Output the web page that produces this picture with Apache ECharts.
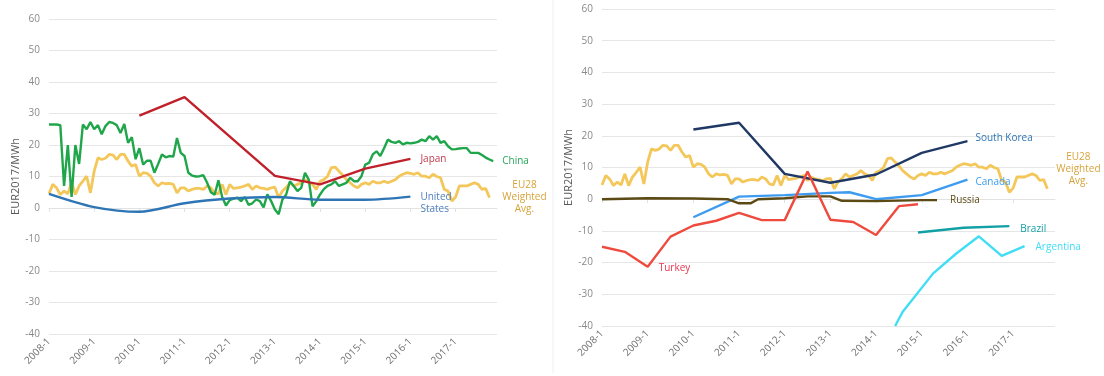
<!DOCTYPE html>
<html>
<head>
<meta charset="utf-8">
<script src="https://cdn.jsdelivr.net/npm/echarts@6/dist/echarts.min.js"></script>
<style>
  html, body { margin: 0; padding: 0; background: #ffffff; }
  #chart { width: 1104px; height: 376px; }
</style>
</head>
<body>
<div id="chart"></div>
<script>
// ---------- categories ----------
const years = [2008, 2009, 2010, 2011, 2012, 2013, 2014, 2015, 2016, 2017];
const months = [];
years.forEach(y => { for (let m = 1; m <= 12; m++) months.push(y + '-' + m); });

// ---------- y axis ----------
const yMin = -40, yMax = 60, yStep = 10;
const yName = 'EUR2017/MWh';

// ---------- monthly series (start 2008-1) ----------
const chinaValues = [26.5,26.5,26.5,26.3,7,20,3.5,20,14,26.5,
  25,27.3,25,26.3,23.4,26,27.3,27,26.3,23.8,
  26.7,20.7,22.5,15.5,19,13.8,15,15,11.2,14,
  17,16.1,16.5,16.3,22.2,17.5,16.5,11.2,10.3,10,
  10.1,10.4,8,5,4.2,8.8,3.5,0.8,2.5,3,
  3.3,2.2,3.5,1,1.5,2.7,2.2,0.2,4.3,2.2,
  -0.5,-2,2.7,4.3,8.5,7,5.4,6.4,11.2,9,
  0.5,2.2,4.3,6,7,7.5,8.5,7,7.5,8,
  9.6,8.5,8.5,10.1,13.8,14.3,17,18,16.5,19,
  21.7,21,20.7,21.2,20.2,20.7,20.5,20.7,21,21.7,
  21.2,22.8,21.7,22.8,20.7,21.2,19.6,18.6,18.7,18.9,
  19,19,17.5,17.5,17.5,16.8,16,15.4,14.9];

const eu28Values = [4.5,7.5,6.4,4.3,5.4,4.5,8,4.3,7,8.5,
  10.1,4.8,11.7,15.9,15.4,15.8,17,16.8,15.4,17,
  17,14.9,13.3,13.8,10.1,11.2,11,10.1,8,7,
  8,7.7,7.8,7.5,4.8,6.4,6.4,5.4,5.9,6.2,
  6.2,5.9,7,6.4,4.8,4.5,7.5,4.3,7.5,6.2,
  6.4,6.6,7,7.5,5.9,7,6.4,6.2,5.9,6.4,
  6.6,3.3,5.4,6.5,8,7,7.5,8,9,8,
  7.5,5.9,8.5,9,10.1,12.8,13,11.7,10.5,9,
  8,7,6.4,7.5,8,7.5,8.5,8,8,8.5,
  8,8.5,9,10.1,10.7,11.2,11,10.7,11.2,10.1,
  10.1,9.6,10.7,10,9.6,5.9,5.4,2.2,3.5,7,
  7,7,7.5,8,7.5,5.9,6.2,3.3];

// ---------- sparse series (left chart) ----------
const japanMonths = ['2010-1','2011-1','2013-1','2014-1','2015-1','2016-1'];
const japanValues = [29.3, 35.2, 10.2, 7.5, 12.5, 15.6];

const usMonths = ['2008-1','2009-1','2010-1','2011-1','2012-1','2013-1','2014-1','2015-1','2016-1'];
const usValues = [4.5, 0.3, -1.2, 1.5, 3.0, 3.5, 2.6, 2.6, 3.6];

// ---------- sparse series (right chart) ----------
const koreaMonths = ['2010-1','2011-1','2012-1','2013-1','2014-1','2015-1','2016-1'];
const koreaValues = [22, 24.1, 8, 5.2, 7.8, 14.6, 18.3];

const canadaMonths = ['2010-1','2011-1','2012-1','2013-1','2013-6','2014-1','2015-1','2016-1'];
const canadaValues = [-5.7, 0.8, 1.3, 2.0, 2.2, 0, 1.3, 6.2];

const russiaMonths = ['2008-1','2009-1','2010-1','2010-10','2011-1','2011-4','2011-6','2012-1','2012-7','2013-1','2013-4','2014-1','2015-1','2015-5'];
const russiaValues = [0, 0.3, 0.2, 0, -1.3, -1.3, 0, 0.3, 0.9, 0.9, -0.5, -0.6, -0.3, -0.3];

const turkeyMonths = ['2008-1','2008-7','2009-1','2009-7','2010-1','2010-7','2011-1','2011-7','2012-1','2012-7','2013-1','2013-7','2014-1','2014-7','2014-12'];
const turkeyValues = [-15, -16.6, -21.3, -11.8, -8.3, -6.8, -4.3, -6.6, -6.6, 8.7, -6.5, -7.2, -11.3, -2.2, -1.6];

const brazilMonths = ['2014-12','2015-12','2016-12'];
const brazilValues = [-10.5, -9, -8.5];

const argentinaMonths = ['2014-6','2014-8','2015-4','2015-10','2016-4','2016-10','2017-4'];
const argentinaValues = [-40, -35.5, -23.4, -17.2, -11.7, -17.9, -14.8];

// ---------- helpers ----------
const pairs = (ms, vs) => ms.map((m, i) => [m, vs[i]]);
const FONT = 'Open Sans';

function xAxisCfg(gi) {
  return {
    type: 'category', gridIndex: gi, data: months, boundaryGap: false,
    axisLine: { show: false, onZero: false }, axisTick: { show: false },
    axisLabel: { interval: 11, rotate: 45, color: '#707070', fontSize: 10, fontFamily: FONT, margin: 6 },
    splitLine: { show: false }
  };
}
function zeroAxisCfg(gi) {
  return {
    type: 'category', gridIndex: gi, data: months, boundaryGap: false, position: 'bottom',
    axisLine: { show: true, onZero: true, lineStyle: { color: '#e2e2e2', width: 1 } },
    axisTick: { show: true, interval: 11, length: 4, lineStyle: { color: '#e2e2e2' } },
    axisLabel: { show: false }, splitLine: { show: false }
  };
}
function yAxisCfg(gi) {
  return {
    type: 'value', gridIndex: gi, min: yMin, max: yMax, interval: yStep,
    name: yName, nameLocation: 'middle', nameRotate: 90, nameGap: 27,
    nameTextStyle: { color: '#595959', fontSize: 11, fontFamily: FONT },
    axisLine: { show: false }, axisTick: { show: false },
    axisLabel: { color: '#8a8a8a', fontSize: 10, fontFamily: FONT, margin: 9 },
    splitLine: { lineStyle: { color: '#e6e6e6', width: 1 } }
  };
}
function line(gi, name, data, color, width, endLabel, extra) {
  return Object.assign({
    type: 'line', name: name, xAxisIndex: gi, yAxisIndex: gi, data: data,
    showSymbol: false, symbol: 'none', clip: true,
    lineStyle: { color: color, width: width }, itemStyle: { color: color },
    endLabel: endLabel ? Object.assign({ show: true, fontSize: 10, fontFamily: FONT, lineHeight: 12 }, endLabel) : { show: false },
    z: 3
  }, extra || {});
}

const cYellow = '#F4C75A', cYellowTxt = '#D6A33A';
const eu28Label = { formatter: 'EU28\nWeighted\nAvg.', color: cYellowTxt, align: 'center' };

const series = [
  // left chart
  line(0, 'EU28 Weighted Avg.', eu28Values, cYellow, 2.8, Object.assign({ offset: [27, 0] }, eu28Label), { z: 2 }),
  line(0, 'China', chinaValues, '#1FA64A', 2.4, { formatter: 'China', color: '#2AA55A', offset: [1, 0] }),
  line(0, 'Japan', pairs(japanMonths, japanValues), '#C0202A', 2.4, { formatter: 'Japan', color: '#C0394B', offset: [2, 0] }),
  line(0, 'United States', pairs(usMonths, usValues), '#2E75B6', 2.4, { formatter: 'United\nStates', color: '#4F81BD', offset: [2, 6] }, { smooth: 0.3 }),
  // right chart
  line(1, 'EU28 Weighted Avg.', eu28Values, cYellow, 2.8, Object.assign({ offset: [23, -20] }, eu28Label), { z: 2 }),
  line(1, 'South Korea', pairs(koreaMonths, koreaValues), '#1F3864', 2.4, { formatter: 'South Korea', color: '#2E75B6', offset: [0, -3] }),
  line(1, 'Canada', pairs(canadaMonths, canadaValues), '#3D9BF0', 2.4, { formatter: 'Canada', color: '#3D9BF0', offset: [0, 3] }),
  line(1, 'Russia', pairs(russiaMonths, russiaValues), '#5C4A14', 2.4, { formatter: 'Russia', color: '#5C4A14', offset: [5, 0] }),
  line(1, 'Turkey', pairs(turkeyMonths, turkeyValues), '#EE4B3E', 2.4, null, {
    markPoint: {
      symbol: 'circle', symbolSize: 0, silent: true,
      data: [{ coord: [turkeyMonths[2], turkeyValues[2]] }],
      label: { show: true, formatter: 'Turkey', position: 'right', distance: 5, offset: [6, 1], color: '#E8344B', fontSize: 10, fontFamily: FONT }
    }
  }),
  line(1, 'Brazil', pairs(brazilMonths, brazilValues), '#12A0A5', 2.4, { formatter: 'Brazil', color: '#12A0A5', offset: [3, 3] }),
  line(1, 'Argentina', pairs(argentinaMonths, argentinaValues), '#40DDF5', 2.4, { formatter: 'Argentina', color: '#40DDF5', offset: [3, 1] })
];

const chart = echarts.init(document.getElementById('chart'), null, { renderer: 'canvas' });
chart.setOption({
  animation: false,
  backgroundColor: '#ffffff',
  grid: [
    { left: 49, top: 19, width: 448, height: 315, containLabel: false },
    { left: 602, top: 9, width: 453, height: 317, containLabel: false }
  ],
  xAxis: [xAxisCfg(0), xAxisCfg(1), zeroAxisCfg(0), zeroAxisCfg(1)],
  yAxis: [yAxisCfg(0), yAxisCfg(1)],
  graphic: [
    { type: 'line', shape: { x1: 553, y1: 0, x2: 553, y2: 373 }, style: { stroke: '#f0f0f0', lineWidth: 1 }, silent: true }
  ],
  series: series
});
</script>
</body>
</html>
